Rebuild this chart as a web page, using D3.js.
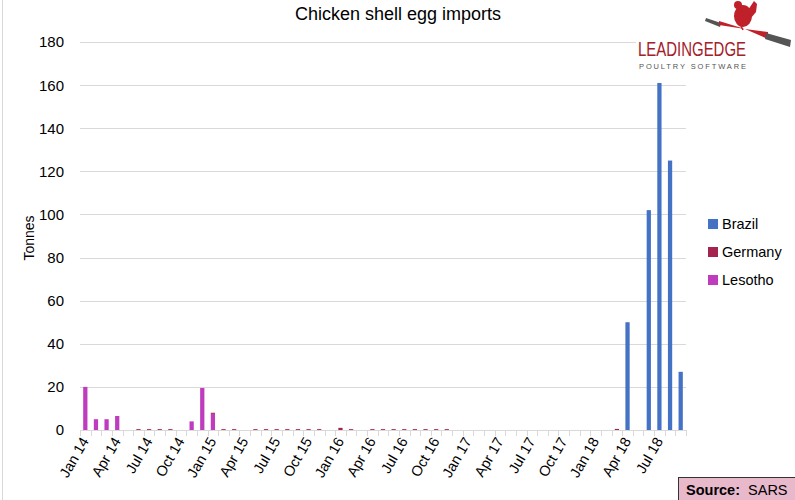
<!DOCTYPE html>
<html><head><meta charset="utf-8">
<script src="https://cdn.jsdelivr.net/npm/d3@7"></script>
<style>body{margin:0;background:#fff}svg{display:block}text{font-family:"Liberation Sans",Arial,sans-serif}</style>
</head><body>
<svg id="c" width="795" height="500"></svg>
<script>
const months = ["Jan 14","Feb 14","Mar 14","Apr 14","May 14","Jun 14","Jul 14","Aug 14","Sep 14","Oct 14","Nov 14","Dec 14",
"Jan 15","Feb 15","Mar 15","Apr 15","May 15","Jun 15","Jul 15","Aug 15","Sep 15","Oct 15","Nov 15","Dec 15",
"Jan 16","Feb 16","Mar 16","Apr 16","May 16","Jun 16","Jul 16","Aug 16","Sep 16","Oct 16","Nov 16","Dec 16",
"Jan 17","Feb 17","Mar 17","Apr 17","May 17","Jun 17","Jul 17","Aug 17","Sep 17","Oct 17","Nov 17","Dec 17",
"Jan 18","Feb 18","Mar 18","Apr 18","May 18","Jun 18","Jul 18","Aug 18","Sep 18"];
const tickLabels = ["Jan 14","Apr 14","Jul 14","Oct 14","Jan 15","Apr 15","Jul 15","Oct 15","Jan 16","Apr 16","Jul 16","Oct 16",
"Jan 17","Apr 17","Jul 17","Oct 17","Jan 18","Apr 18","Jul 18"];
const brazil = [0,0,0,0,0,0,0,0,0,0,0,0, 0,0,0,0,0,0,0,0,0,0,0,0, 0,0,0,0,0,0,0,0,0,0,0,0, 0,0,0,0,0,0,0,0,0,0,0,0, 0,0,0,50,0,102,161,125,27];
const germany = [0,0,0,0,0,0.4,0.4,0.4,0.4,0,0,0, 0.5,0.4,0.4,0,0.4,0.4,0.4,0.4,0.4,0.4,0.4,0, 1,0.4,0,0.4,0.4,0.4,0.4,0.4,0.4,0.4,0.4,0, 0,0,0,0,0,0,0,0,0,0,0,0, 0,0,0.5,0,0,0,0,0,0];
const lesotho = [20,5,5,6.5,0,0,0,0,0,0,4,19.5, 7.5,0,0,0,0,0,0,0,0,0,0,0, 0,0,0,0,0,0,0,0,0,0,0,0, 0,0,0,0,0,0,0,0,0,0,0,0, 0,0,0,0,0,0,0,0,0];
const yTicks = [0,20,40,60,80,100,120,140,160,180];
const seriesNames = ["Brazil","Germany","Lesotho"];
const colors = {Brazil:"#4472C4", Germany:"#A5234F", Lesotho:"#BF3CBF"};

const svg = d3.select("#c");
const m = {l:80, r:109, t:42, b:70};
const W = 795, H = 500;
const x = d3.scaleBand().domain(months).range([m.l, 686]).paddingInner(0.6).paddingOuter(0.3);
const y = d3.scaleLinear().domain([0,180]).range([430, 42]);

// border
svg.append("line").attr("x1",2.5).attr("x2",2.5).attr("y1",0).attr("y2",H).attr("stroke","#d9d9d9");

// gridlines
svg.append("g").selectAll("line").data(yTicks.filter(d=>d>0)).join("line")
  .attr("x1",m.l).attr("x2",686).attr("y1",d=>Math.round(y(d))+0.5).attr("y2",d=>Math.round(y(d))+0.5)
  .attr("stroke","#d9d9d9").attr("stroke-width",1);

// y labels
svg.append("g").selectAll("text").data(yTicks).join("text")
  .attr("x",64).attr("y",d=>y(d)).attr("dy","0.36em").attr("text-anchor","end")
  .attr("font-size",15).attr("fill","#000").text(d=>d);

// stacked bars
const rows = months.map((mo,i)=>({month:mo, Brazil:brazil[i], Lesotho:lesotho[i], Germany:germany[i]}));
const stack = d3.stack().keys(["Brazil","Lesotho","Germany"])(rows);
const bw = x.step()*0.4;
svg.append("g").selectAll("g").data(stack).join("g").attr("fill",d=>colors[d.key])
  .selectAll("rect").data(d=>d).join("rect")
  .attr("x",d=>x(d.data.month)+x.bandwidth()/2-bw/2).attr("width",bw)
  .attr("y",d=>y(d[1])).attr("height",d=>Math.max(0,y(d[0])-y(d[1])));

// x axis
svg.append("line").attr("x1",m.l).attr("x2",686).attr("y1",430.5).attr("y2",430.5).attr("stroke","#d9d9d9");
const bounds = d3.range(months.length+1).map(i=>m.l + i*(686-m.l)/months.length);
svg.append("g").selectAll("line").data(bounds).join("line")
  .attr("x1",d=>Math.round(d)+0.5).attr("x2",d=>Math.round(d)+0.5).attr("y1",430).attr("y2",436)
  .attr("stroke","#d9d9d9");
svg.append("g").selectAll("text").data(tickLabels).join("text")
  .attr("transform",d=>`translate(${x(d)+x.bandwidth()/2+4},${441}) rotate(-60)`)
  .attr("text-anchor","end").attr("font-size",14.5).attr("fill","#000").text(d=>d);

// title
svg.append("text").attr("x",398).attr("y",20).attr("text-anchor","middle").attr("font-size",18).attr("fill","#000")
  .text("Chicken shell egg imports");

// y title
svg.append("text").attr("transform","translate(34,238) rotate(-90)").attr("text-anchor","middle")
  .attr("font-size",14).attr("fill","#000").text("Tonnes");

// legend
const lg = svg.append("g").selectAll("g").data(seriesNames).join("g")
  .attr("transform",(d,i)=>`translate(708,${224+i*28})`);
lg.append("rect").attr("x",0).attr("y",-5).attr("width",10).attr("height",10).attr("fill",d=>colors[d]);
lg.append("text").attr("x",14).attr("y",0).attr("dy","0.36em").attr("font-size",14.5).attr("fill","#000").text(d=>d);

// logo
const logo = svg.append("g");
logo.append("rect").attr("x",636).attr("y",0).attr("width",159).attr("height",74).attr("fill","#fff");
logo.append("polygon").attr("points","706,18 721,23 720,27 705,21").attr("fill","#555");
logo.append("polygon").attr("points","719,21 745,29 719,25").attr("fill","#c0202a");
logo.append("polygon").attr("points","745,29 768,32 768,39").attr("fill","#c0202a");
logo.append("polygon").attr("points","766,33 791,40 790,47 765,39").attr("fill","#555");
logo.append("ellipse").attr("cx",743).attr("cy",16).attr("rx",9).attr("ry",11).attr("fill","#c0202a");
logo.append("circle").attr("cx",738).attr("cy",5).attr("r",4).attr("fill","#c0202a");
logo.append("polygon").attr("points","748,10 754,1 757,4 756,12 751,18").attr("fill","#c0202a");
logo.append("line").attr("x1",741).attr("y1",26).attr("x2",743).attr("y2",30).attr("stroke","#c0202a").attr("stroke-width",1.5);
logo.append("text").attr("x",638).attr("y",56).attr("font-size",21).attr("fill","#a4202a")
  .attr("textLength",108).attr("lengthAdjust","spacingAndGlyphs").attr("font-family","'DejaVu Sans Condensed','Liberation Sans Narrow',sans-serif").attr("font-weight","300").text("LEADINGEDGE");
logo.append("text").attr("x",639).attr("y",69).attr("font-size",7.5).attr("fill","#555")
  .attr("textLength",107).text("POULTRY SOFTWARE");

// source box
svg.append("rect").attr("x",678.5).attr("y",477.5).attr("width",118).attr("height",24).attr("fill","#E8B8CB").attr("stroke","#333");
const src = svg.append("text").attr("x",686).attr("y",495).attr("font-size",14.5).attr("fill","#000");
src.append("tspan").attr("font-weight","bold").text("Source:");
src.append("tspan").text("  SARS").attr("xml:space","preserve");
</script>
</body></html>
